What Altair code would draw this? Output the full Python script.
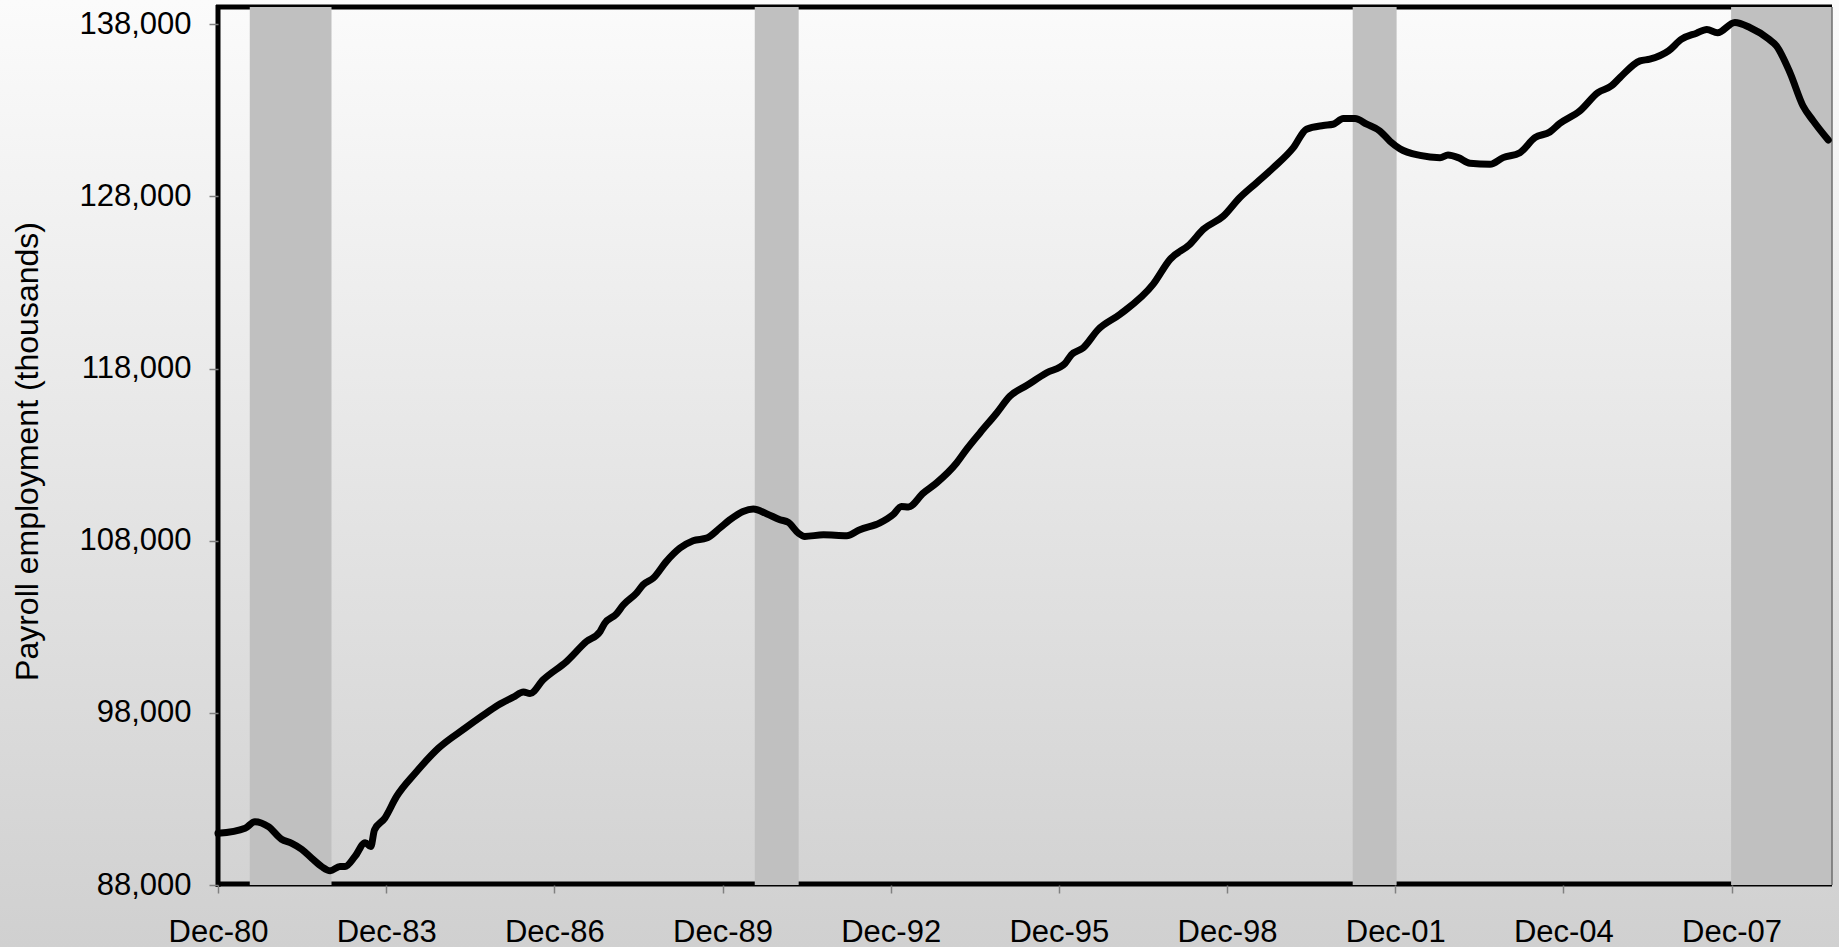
import altair as alt
import pandas as pd

# Months since Dec 1980 (0 = Dec-80) and payroll employment (thousands)
month_index = [
    0, 5.8, 7.9, 10.8, 13.6, 15.8, 17.9, 20.1, 22.2, 24.0, 26.1, 27.2, 29.3, 31.5, 32.7, 33.5,
    35.7, 38.2, 42.2, 47.2, 52.9, 56.4, 60.0, 63.2, 65.4, 66.8, 69.6, 74.6, 78.9, 81.8, 82.8,
    85.3, 86.8, 89.6, 91.0, 93.2, 96.0, 98.9, 101.7, 104.6, 107.4, 109.6, 112.4, 114.6, 117.4,
    120.3, 122.1, 124.2, 125.6, 129.6, 134.6, 137.4, 141.7, 144.5, 146.3, 147.8, 151.0, 153.8,
    158.1, 160.2, 163.1, 166.7, 169.5, 173.1, 177.4, 181.3, 182.7, 185.2, 188.4, 193.1, 200.2,
    203.8, 208.0, 210.9, 215.2, 218.7, 222.3, 225.9, 230.2, 233.0, 236.6, 238.7, 240.9, 243.4,
    245.9, 248.7, 250.9, 253.0, 257.3, 261.6, 263.3, 265.5, 268.0, 272.3, 275.1, 278.7, 281.9,
    285.1, 287.2, 291.5, 295.4, 298.3, 300.1, 304.4, 306.5, 310.5, 313.3, 316.5, 318.7, 321.0,
    324.7, 327.9, 331.8, 333.6, 336.5, 339.3, 341.5, 344.7,
]
payroll = [
    91000, 91300, 91680, 91390, 90660, 90420, 90080, 89550, 89070, 88830, 89070, 89070, 89650, 90460, 90230, 91200,
    91880, 93130, 94490, 95950, 97110, 97790, 98460, 98910, 99210, 99120, 99920, 100980, 102150, 102730, 103210,
    103750, 104280, 104960, 105440, 105830, 106800, 107570, 108000, 108150, 108730, 109220, 109700, 109840, 109570,
    109220, 109060, 108450, 108250, 108340, 108290, 108640, 109030, 109510, 109990, 109960, 110770, 111350,
    112510, 113290, 114260, 115420, 116390, 117010, 117750, 118290, 118810, 119200, 120260, 121150, 122900,
    124340, 125210, 126080, 126850, 127920, 128790, 129660, 130830, 131900, 132120, 132190, 132520, 132520,
    132190, 131800, 131200, 130770, 130380, 130250, 130400, 130250, 129920, 129860, 130250, 130540, 131410,
    131740, 132230, 132960, 134030, 134420, 134900, 135870, 135970, 136450, 137130, 137480, 137700, 137500,
    138100, 137810, 137170, 136740, 135190, 133250, 132380, 131270,
]

# Recession shading (months since Dec 1980)
recession_start = [6.8, 114.9, 242.9, 323.9]
recession_end = [24.3, 124.3, 252.3, 345.5]

x_tick_months = [0, 36, 72, 108, 144, 180, 216, 252, 288, 324]
x_tick_labels = ["Dec-80", "Dec-83", "Dec-86", "Dec-89", "Dec-92",
                 "Dec-95", "Dec-98", "Dec-01", "Dec-04", "Dec-07"]
y_ticks = [88000, 98000, 108000, 118000, 128000, 138000]

W, H = 1614, 878
FONT = "Liberation Sans"

line_df = pd.DataFrame({"month": month_index, "payroll": payroll})
rec_df = pd.DataFrame({"start": recession_start, "end": recession_end})

x_scale = alt.Scale(domain=[0, 345.5], nice=False, zero=False)
y_scale = alt.Scale(domain=[88000, 139000], nice=False, zero=False)

label_list = "[" + ",".join("'%s'" % s for s in x_tick_labels) + "]"
x_axis = alt.Axis(
    values=x_tick_months,
    labelExpr=label_list + "[round(datum.value/36)]",
    title=None, domain=False, grid=False,
    tickColor="#808080", tickSize=8, tickWidth=1.5,
    labelFontSize=31, labelFont=FONT, labelColor="black",
    labelPadding=24, labelFlush=False, labelOverlap=False, zindex=1,
)
y_axis = alt.Axis(
    values=y_ticks, format=",.0f",
    title="Payroll employment (thousands)",
    domain=False, grid=False,
    tickColor="#808080", tickSize=9, tickWidth=1.5,
    labelFontSize=31, labelFont=FONT, labelColor="black", labelPadding=18,
    titleFontSize=32, titleFont=FONT, titleColor="black", titleFontWeight="normal",
    titleAngle=270, titleX=-191, titleY=444, titleAlign="center", titleBaseline="middle",
    zindex=1,
)

dummy = pd.DataFrame({"a": [0]})

bg = alt.Chart(dummy).mark_rect(
    fill=alt.Gradient(
        gradient="linear",
        stops=[alt.GradientStop(color="#fbfbfb", offset=0),
               alt.GradientStop(color="#d0d0d0", offset=1)],
        x1=0, x2=0, y1=0, y2=1,
    ),
    stroke="transparent",
).encode(x=alt.value(-218), x2=alt.value(W + 7), y=alt.value(-7), y2=alt.value(H + 62))

left_frame = alt.Chart(dummy).mark_rule(color="black", strokeWidth=5).encode(
    x=alt.value(0), y=alt.value(-2), y2=alt.value(H + 2))
top_frame = alt.Chart(dummy).mark_rule(color="black", strokeWidth=5).encode(
    x=alt.value(-2), x2=alt.value(W), y=alt.value(0))
bottom_frame = alt.Chart(dummy).mark_rule(color="black", strokeWidth=5).encode(
    x=alt.value(-2), x2=alt.value(W), y=alt.value(H - 1))

bars = alt.Chart(rec_df).mark_rect(color="#c0c0c0").encode(
    x=alt.X("start:Q", scale=x_scale, axis=x_axis),
    x2="end:Q",
    y=alt.value(0),
    y2=alt.value(H),
)

right_frame = alt.Chart(dummy).mark_rule(color="#6e6e6e", strokeWidth=1.5).encode(
    x=alt.value(W), y=alt.value(0), y2=alt.value(H))

line = alt.Chart(line_df).mark_line(
    color="black", strokeWidth=7, strokeJoin="round", strokeCap="round",
    interpolate="monotone",
).encode(
    x=alt.X("month:Q", scale=x_scale, axis=x_axis),
    y=alt.Y("payroll:Q", scale=y_scale, axis=y_axis),
)

chart = alt.layer(bg, left_frame, top_frame, bottom_frame, bars, right_frame, line).properties(
    width=W, height=H,
    autosize=alt.AutoSizeParams(type="none"),
    padding={"left": 218, "top": 7, "right": 7, "bottom": 62},
    background="#e5e5e5",
).configure_view(stroke="transparent")

chart.save("out.html", embed_options={"renderer": "svg", "actions": False})
